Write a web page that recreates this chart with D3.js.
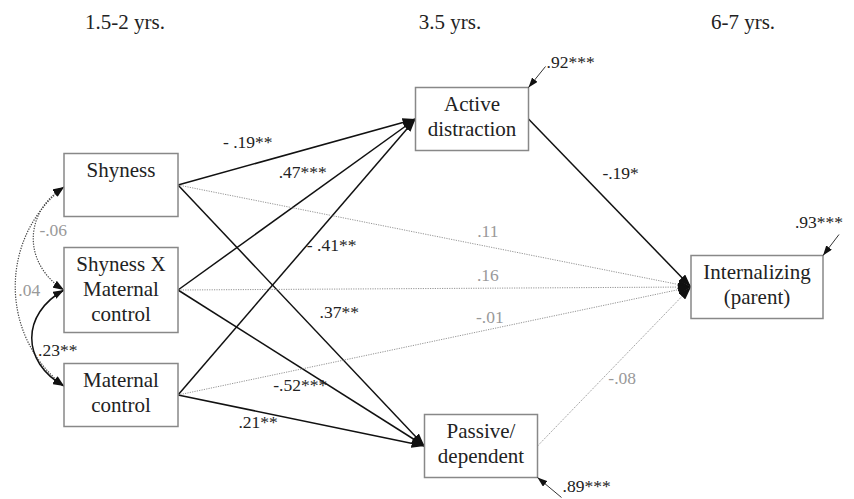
<!DOCTYPE html>
<html>
<head>
<meta charset="utf-8">
<script src="https://cdn.jsdelivr.net/npm/d3@7"></script>
<style>
body { margin: 0; background: #fff; }
svg text { font-family: 'Liberation Serif', 'DejaVu Serif', serif; }
</style>
</head>
<body>
<svg width="854" height="499"></svg>
<script>
// Waves (column headers)
const waves = ["1.5-2 yrs.", "3.5 yrs.", "6-7 yrs."];

// Variables per wave
const predictors = ["Shyness", "Shyness X Maternal control", "Maternal control"];
const mediators = ["Active distraction", "Passive/ dependent"];
const outcomes = ["Internalizing (parent)"];

// Box text, line by line (same order as the variables)
const boxLines = [
    ["Shyness"], ["Shyness X", "Maternal", "control"], ["Maternal", "control"],
    ["Active", "distraction"], ["Passive/", "dependent"],
    ["Internalizing", "(parent)"]
];

// Directed paths: from, to, standardized coefficient
const paths = [
    ["Shyness", "Active distraction", "- .19**"],
    ["Shyness X Maternal control", "Active distraction", ".47***"],
    ["Maternal control", "Active distraction", "- .41**"],
    ["Shyness", "Passive/ dependent", ".37**"],
    ["Shyness X Maternal control", "Passive/ dependent", "-.52***"],
    ["Maternal control", "Passive/ dependent", ".21**"],
    ["Shyness", "Internalizing (parent)", ".11"],
    ["Shyness X Maternal control", "Internalizing (parent)", ".16"],
    ["Maternal control", "Internalizing (parent)", "-.01"],
    ["Active distraction", "Internalizing (parent)", "-.19*"],
    ["Passive/ dependent", "Internalizing (parent)", "-.08"]
];

// Correlations between predictors
const covariances = [
    ["Shyness", "Shyness X Maternal control", "-.06"],
    ["Shyness", "Maternal control", ".04"],
    ["Shyness X Maternal control", "Maternal control", ".23**"]
];

// Residual variances
const residuals = [
    ["Active distraction", ".92***"],
    ["Passive/ dependent", ".89***"],
    ["Internalizing (parent)", ".93***"]
];

// ---------- layout ----------
var svg = d3.select("svg")
    .attr("font-family", "'Liberation Serif', 'DejaVu Serif', serif");

var colX = d3.scaleOrdinal(waves, [121, 476, 757]);
var headX = d3.scaleOrdinal(waves, [125, 450, 743]);
var colW = d3.scaleOrdinal(waves, [114, 113, 132]);
var rowY = [
    d3.scalePoint(predictors, [185, 395]),
    d3.scalePoint(mediators, [119, 446]),
    d3.scalePoint(outcomes, [0, 574])
];
var nudgeX = { "Active distraction": -4, "Passive/ dependent": 5 };
// where the correlation arrows meet the left edge, relative to box centre
var covPort = { "Shyness": 2, "Shyness X Maternal control": 0, "Maternal control": -9 };

var groups = [predictors, mediators, outcomes];
var nodes = [];
groups.forEach(function (list, w) {
    list.forEach(function (name) {
        var lines = boxLines[nodes.length];
        var h = lines.length > 2 ? 85 : 63;
        nodes.push({
            name: name, lines: lines, wave: waves[w],
            x: colX(waves[w]) + (nudgeX[name] || 0),
            y: rowY[w](name), w: colW(waves[w]), h: h
        });
    });
});
var byName = {};
nodes.forEach(function (n) { byName[n.name] = n; });

function isSig(label) { return label.indexOf("*") >= 0; }

// Arrowhead markers
var defs = svg.append("defs");
function marker(id, len, wid, orient) {
    defs.append("marker")
        .attr("id", id)
        .attr("viewBox", "0 " + (-wid / 2) + " " + len + " " + wid)
        .attr("refX", len).attr("refY", 0)
        .attr("markerUnits", "userSpaceOnUse")
        .attr("markerWidth", len).attr("markerHeight", wid)
        .attr("orient", orient)
        .append("path")
        .attr("d", "M0," + (-wid / 2) + "L" + len + ",0L0," + (wid / 2) + "Z")
        .attr("fill", "#111");
}
marker("head", 13, 9, "auto");
marker("covhead", 11, 8, "auto-start-reverse");
marker("reshead", 10, 7, "auto");

// Headers
svg.selectAll(".wave")
    .data(waves)
    .enter().append("text")
    .attr("x", function (d) { return headX(d); })
    .attr("y", 29)
    .attr("text-anchor", "middle")
    .attr("font-size", "21px")
    .attr("fill", "#222")
    .text(function (d) { return d; });

// Path label placement: fraction along the line plus offset
var labelPos = [
    [0.294, 0, -23], [0.525, 0, -28], [0.647, 0, 29],
    [0.654, 0, -43], [0.496, 0, 18], [0.325, 0, 11],
    [0.604, 0, -15], [0.604, 0, -13], [0.608, 0, -12],
    [0.321, 40, 0], [0.428, 19, 0]
];

var pathG = svg.append("g");
paths.forEach(function (p, i) {
    var a = byName[p[0]], b = byName[p[1]];
    var x1 = a.x + a.w / 2, y1 = a.y;
    var x2 = b.x - b.w / 2, y2 = b.y;
    var sig = isSig(p[2]);
    pathG.append("line")
        .attr("x1", x1).attr("y1", y1)
        .attr("x2", x2).attr("y2", y2)
        .attr("stroke", sig ? "#111" : "#888")
        .attr("stroke-width", sig ? 1.5 : 0.9)
        .attr("stroke-dasharray", sig ? null : "1.2,1.2")
        .attr("marker-end", "url(#head)");
    var lp = labelPos[i];
    pathG.append("text")
        .attr("x", x1 + (x2 - x1) * lp[0] + lp[1])
        .attr("y", y1 + (y2 - y1) * lp[0] + lp[2])
        .attr("dy", "0.33em")
        .attr("text-anchor", "middle")
        .attr("font-size", "17.5px")
        .attr("fill", sig ? "#222" : "#999")
        .text(p[2]);
});

// Covariance curves on the left side: control x and label offset
var covShape = [[23, 20, -8], [-1, 14, 4], [21, 26, 12]];
covariances.forEach(function (c, i) {
    var a = byName[c[0]], b = byName[c[1]];
    var x0 = a.x - a.w / 2, y1 = a.y + covPort[c[0]], y2 = b.y + covPort[c[1]];
    var dy = (y2 - y1) * 0.25;
    var cx = covShape[i][0];
    var sig = isSig(c[2]);
    svg.append("path")
        .attr("d", "M" + x0 + "," + y1 + " C" + cx + "," + (y1 + dy) + " " + cx + "," + (y2 - dy) + " " + x0 + "," + y2)
        .attr("fill", "none")
        .attr("stroke", sig ? "#111" : "#444")
        .attr("stroke-width", sig ? 1.5 : 1.2)
        .attr("stroke-dasharray", sig ? null : "1.3,1.3")
        .attr("marker-start", "url(#covhead)")
        .attr("marker-end", "url(#covhead)");
    var mx = x0 + 0.75 * (cx - x0);
    svg.append("text")
        .attr("x", mx + covShape[i][1])
        .attr("y", (y1 + y2) / 2 + covShape[i][2])
        .attr("dy", "0.33em")
        .attr("text-anchor", "middle")
        .attr("font-size", "17.5px")
        .attr("fill", sig ? "#222" : "#999")
        .text(c[2]);
});

// Boxes
var box = svg.selectAll(".node")
    .data(nodes)
    .enter().append("g")
    .attr("class", "node")
    .attr("transform", function (d) { return "translate(" + (d.x - d.w / 2) + "," + (d.y - d.h / 2) + ")"; });
box.append("rect")
    .attr("width", function (d) { return d.w; })
    .attr("height", function (d) { return d.h; })
    .attr("fill", "#fff")
    .attr("stroke", "#888")
    .attr("stroke-width", 1.5);
box.each(function (d) {
    d3.select(this).selectAll("text")
        .data(d.lines)
        .enter().append("text")
        .attr("x", d.w / 2)
        .attr("y", function (t, i) { return 23 + i * 25; })
        .attr("text-anchor", "middle")
        .attr("font-size", "21px")
        .attr("fill", "#222")
        .text(function (t) { return t; });
});

// Residual arrows: corner, start offset, label offset, anchor
var resShape = {
    "Active distraction": ["tr", 17, -21, 1, -4, "start"],
    "Passive/ dependent": ["br", 24, 20, 1, -11, "start"],
    "Internalizing (parent)": ["tr", 16, -21, 4, -12, "end"]
};
residuals.forEach(function (r) {
    var n = byName[r[0]], s = resShape[r[0]];
    var cx = n.x + n.w / 2;
    var cy = s[0] === "tr" ? n.y - n.h / 2 : n.y + n.h / 2;
    var sx = cx + s[1], sy = cy + s[2];
    svg.append("line")
        .attr("x1", sx).attr("y1", sy)
        .attr("x2", cx).attr("y2", cy)
        .attr("stroke", "#333")
        .attr("stroke-width", 1)
        .attr("marker-end", "url(#reshead)");
    svg.append("text")
        .attr("x", sx + s[3])
        .attr("y", sy + s[4])
        .attr("dy", "0.33em")
        .attr("text-anchor", s[5])
        .attr("font-size", "17.5px")
        .attr("fill", "#222")
        .text(r[1]);
});
</script>
</body>
</html>
